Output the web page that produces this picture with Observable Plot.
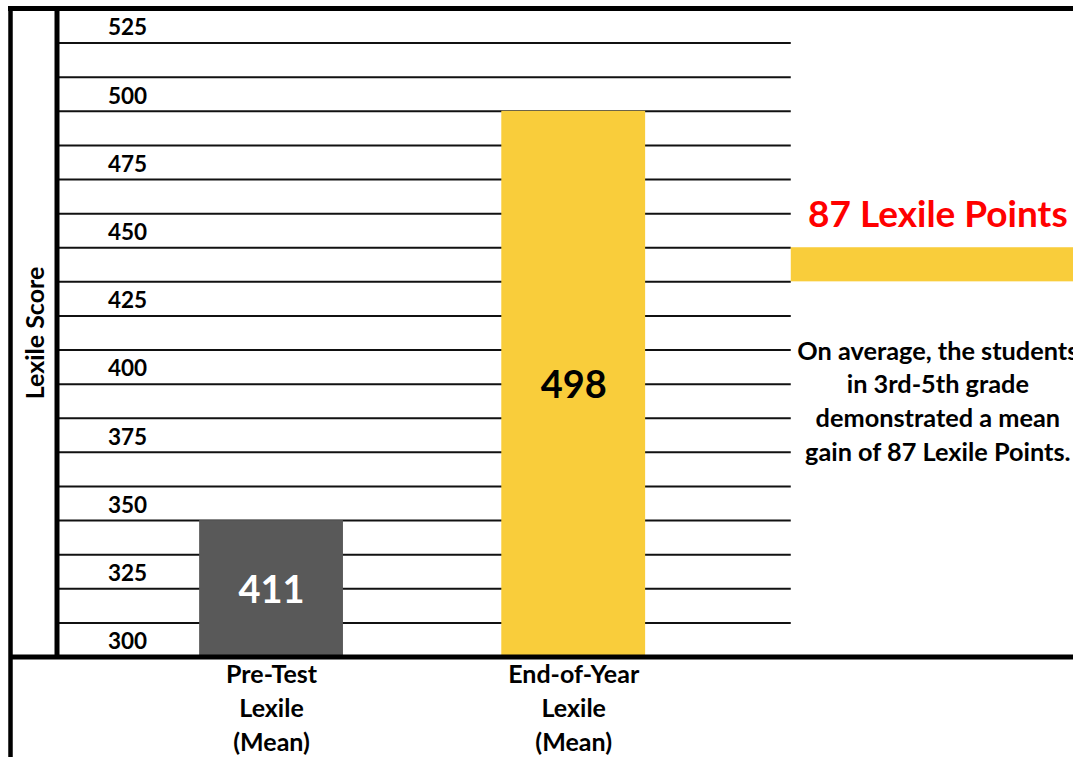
<!DOCTYPE html>
<html>
<head>
<meta charset="utf-8">
<script src="https://cdn.jsdelivr.net/npm/d3@7"></script>
<script src="https://cdn.jsdelivr.net/npm/@observablehq/plot@0.6"></script>
<style>
  html, body { margin: 0; padding: 0; background: #fff; overflow: hidden; }
  #chart svg { display: block; }
</style>
</head>
<body>
<div id="chart"></div>
<script>
// ---- data ----
const categories = ["Pre-Test\nLexile\n(Mean)", "End-of-Year\nLexile\n(Mean)"];
const meanLabels = ["411", "498"];          // printed mean values
const barTops = [350, 500];                 // bar heights as read against the axis
const yTicks = [300, 325, 350, 375, 400, 425, 450, 475, 500, 525];
const gridLines = [312.5, 325, 337.5, 350, 362.5, 375, 387.5, 400, 412.5, 425, 437.5, 450, 462.5, 475, 487.5, 500, 512.5, 525];
const axisTitle = ["Lexile Score"];
const gainHeadline = ["87 Lexile Points"];
const gainBand = [[437.5, 450]];
const gainNote = ["On average, the students\nin 3rd-5th grade\ndemonstrated a mean\ngain of 87 Lexile Points."];

// ---- layout & style ----
const barColors = ["#595959", "#F9CD3B"];
const labelColors = ["#FFFFFF", "#000000"];
const xDomain = [0.29, 3.654];
const yDomain = [300, 537.5];
const gridEnd = 2.72;
const noteX = 3.205;
const halfBar = 0.238;
const font = "Lato, 'Open Sans', sans-serif";

const bars = categories.map((category, i) => ({
  category, top: barTops[i], label: meanLabels[i], pos: i + 1,
  fill: barColors[i], ink: labelColors[i]
}));

const chart = Plot.plot({
  width: 1073,
  height: 757,
  marginLeft: 10,
  marginTop: 8,
  marginRight: 0,
  marginBottom: 0,
  x: {domain: xDomain, range: [56.5, 1073], axis: null},
  y: {domain: yDomain, range: [656.5, 8.5]},
  color: {type: "identity"},
  style: {fontFamily: font, fontWeight: "bold", background: "#fff", color: "#000", overflow: "hidden"},
  marks: [
    Plot.ruleY(gridLines, {x1: xDomain[0], x2: gridEnd, stroke: "#111", strokeWidth: 2}),
    Plot.rect(bars, {x1: d => d.pos - halfBar, x2: d => d.pos + halfBar, y1: yDomain[0], y2: "top", fill: "fill"}),
    Plot.axisY(yTicks, {anchor: "left", tickSize: 0, textAnchor: "start", dx: 106.5, dy: -15, fontSize: 22.5, label: null, tickFormat: d => String(d)}),
    Plot.text(bars, {x: "pos", y: d => (yDomain[0] + d.top) / 2, text: "label", fill: "ink", fontSize: 38, dy: 2}),
    Plot.text(bars, {x: "pos", y: yDomain[0], text: "category", lineAnchor: "top", dy: 2, lineHeight: 1.36, fontSize: 25}),
    Plot.text(axisTitle, {frameAnchor: "left", textAnchor: "middle", dx: 25, y: (yDomain[0] + yDomain[1]) / 2, rotate: -90, fontSize: 25}),
    Plot.rect(gainBand, {x1: gridEnd, x2: xDomain[1], y1: d => d[0], y2: d => d[1], fill: barColors[1]}),
    Plot.text(gainHeadline, {x: noteX, y: 462, fill: "#FF0000", fontSize: 37}),
    Plot.text(gainNote, {x: noteX, y: 394.4, fontSize: 25.3, lineHeight: 1.33}),
    Plot.frame({anchor: "left", strokeWidth: 4.5}),
    Plot.frame({anchor: "top", strokeWidth: 5}),
    Plot.ruleX([xDomain[0]], {y1: yDomain[0], y2: yDomain[1], strokeWidth: 5}),
    Plot.ruleY([yDomain[0]], {strokeWidth: 5})
  ]
});

document.getElementById("chart").append(chart);
</script>
</body>
</html>
